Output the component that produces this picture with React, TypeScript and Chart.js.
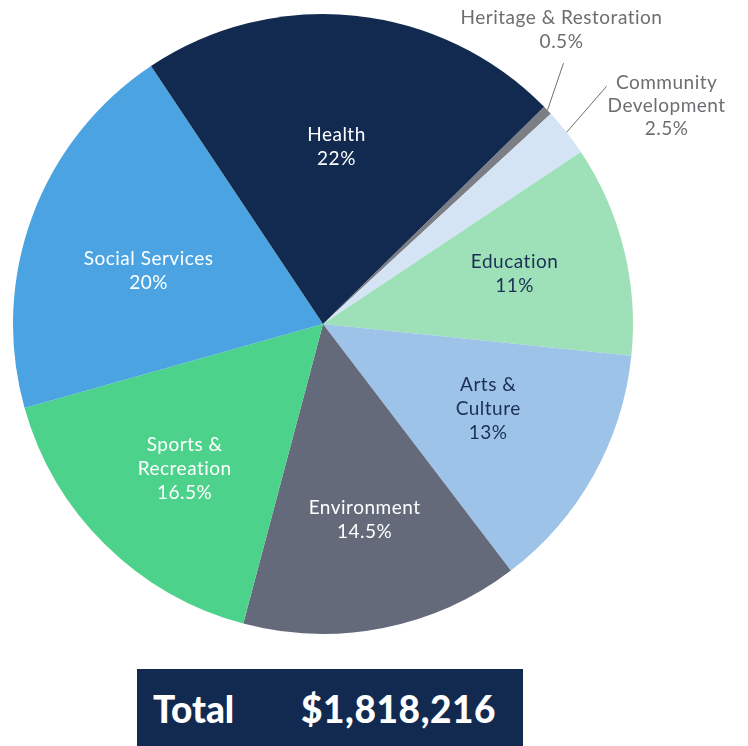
import React, { useEffect, useRef } from "react";
import { Chart, registerables } from "chart.js";

Chart.register(...registerables);

const categories = [
  "Heritage & Restoration",
  "Community Development",
  "Education",
  "Arts & Culture",
  "Environment",
  "Sports & Recreation",
  "Social Services",
  "Health",
];
const shares = [0.5, 2.5, 11, 13, 14.5, 16.5, 20, 22];
const labelLines = [
  ["Heritage & Restoration"],
  ["Community", "Development"],
  ["Education"],
  ["Arts &", "Culture"],
  ["Environment"],
  ["Sports &", "Recreation"],
  ["Social Services"],
  ["Health"],
];
const totalLabel = "Total";
const totalValue = "$1,818,216";

const COLORS = ["#7b7e84", "#d5e4f5", "#9ee1b8", "#9dc3e8", "#646a7a", "#4dd28c", "#4ba4e1", "#122a4f"];
const TEXT_COLORS = ["#6d6e71", "#6d6e71", "#1b2f55", "#1b2f55", "#ffffff", "#ffffff", "#ffffff", "#ffffff"];
const NAVY = "#122a4f";

const fmtPct = (v: number) => `${v}%`;

const labelPlugin = {
  id: "sliceLabels",
  afterDatasetsDraw(chart: any) {
    const ctx = chart.ctx;
    const meta = chart.getDatasetMeta(0);
    const radiusFactor = [0, 0, 0.64, 0.6, 0.64, 0.64, 0.6, 0.58];
    const nudge = [
      [0, 0],
      [0, 0],
      [-1, -2],
      [3, -6],
      [3, 1],
      [1, 4],
      [0, 11],
      [-5, 2],
    ];
    const lh = 24;
    ctx.save();
    ctx.font = "19px Lato";
    try {
      (ctx as any).letterSpacing = "0.5px";
    } catch (e) {}
    ctx.textAlign = "center";
    ctx.textBaseline = "middle";
    meta.data.forEach((arc: any, i: number) => {
      const mid = (arc.startAngle + arc.endAngle) / 2;
      const lines = [...labelLines[i], fmtPct(shares[i])];
      ctx.fillStyle = TEXT_COLORS[i];
      if (i >= 2) {
        const r = arc.outerRadius * radiusFactor[i];
        const cx = arc.x + Math.cos(mid) * r + nudge[i][0];
        const cy = arc.y + Math.sin(mid) * r + nudge[i][1];
        const top = cy - ((lines.length - 1) * lh) / 2;
        lines.forEach((t, k) => ctx.fillText(t, cx, top + k * lh));
      } else {
        const sx = arc.x + Math.cos(mid) * arc.outerRadius;
        const sy = arc.y + Math.sin(mid) * arc.outerRadius;
        const endOff = i === 0 ? [16, -47] : [40, -46];
        const ex = sx + endOff[0];
        const ey = sy + endOff[1];
        ctx.strokeStyle = "#6d6e71";
        ctx.lineWidth = 1;
        ctx.beginPath();
        ctx.moveTo(sx, sy);
        ctx.lineTo(ex, ey);
        ctx.stroke();
        if (i === 0) {
          const bottom = ey - 21;
          lines.forEach((t, k) => ctx.fillText(t, ex - 2, bottom - (lines.length - 1 - k) * lh));
        } else {
          lines.forEach((t, k) => ctx.fillText(t, ex + 60, ey - 3 + k * 23));
        }
      }
    });
    ctx.restore();
  },
};

export default function App() {
  const ref = useRef<HTMLCanvasElement>(null);
  useEffect(() => {
    if (!ref.current) return;
    const chart = new Chart(ref.current, {
      type: "pie",
      data: {
        labels: categories,
        datasets: [
          {
            data: shares,
            backgroundColor: COLORS,
            borderWidth: 0,
          },
        ],
      },
      options: {
        responsive: false,
        animation: false,
        rotation: 45.5,
        layout: { padding: { left: 13, right: 115, top: 14, bottom: 112 } },
        plugins: { legend: { display: false }, tooltip: { enabled: false } },
      },
      plugins: [labelPlugin],
    });
    return () => chart.destroy();
  }, []);

  return (
    <div style={{ position: "absolute", left: 0, top: 0, width: 748, height: 746, background: "#fff", overflow: "hidden" }}>
      <canvas ref={ref} width={748} height={746} style={{ position: "absolute", left: 0, top: 0 }} />
      <div
        style={{
          position: "absolute",
          left: 137,
          top: 669,
          width: 386,
          height: 77,
          background: NAVY,
          color: "#fff",
          fontFamily: "Lato",
          fontWeight: 900,
          fontSize: 37,
          display: "flex",
          alignItems: "center",
          boxSizing: "border-box",
          paddingTop: 2,
        }}
      >
        <span style={{ position: "absolute", left: 16 }}>{totalLabel}</span>
        <span style={{ position: "absolute", left: 164, letterSpacing: "0.6px" }}>{totalValue}</span>
      </div>
    </div>
  );
}
